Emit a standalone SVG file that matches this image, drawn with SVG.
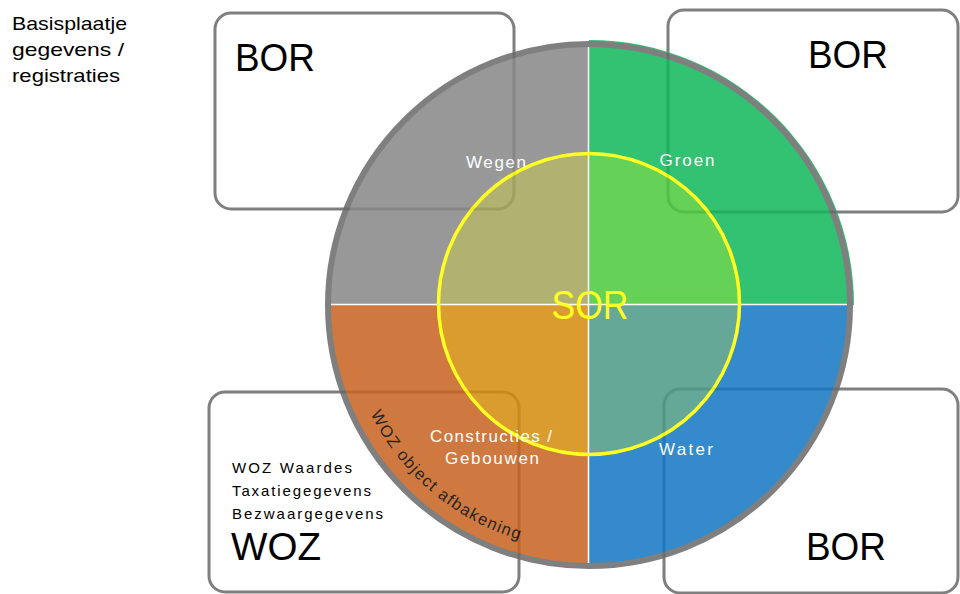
<svg xmlns="http://www.w3.org/2000/svg" width="960" height="594" viewBox="0 0 960 594">
<style>
.box{fill:#fff;stroke:#7f7f7f;stroke-width:3}
.big{font-family:"Liberation Sans",Arial,sans-serif;font-size:39px;fill:#000}
.lab{font-family:"Liberation Sans",Arial,sans-serif;font-size:17px;fill:#fff;text-anchor:middle}
.small{font-family:"Liberation Sans",Arial,sans-serif;font-size:15px;fill:#000}
.title{font-family:"Liberation Sans",Arial,sans-serif;font-size:19px;fill:#000}
.div{stroke:#fff;stroke-width:1.5}
</style>
<defs>
<path id="arc" d="M362.8,396.4 A245,245 0 0 0 567.7,549.1" fill="none"/>
</defs>
<g id="legend">
<text class="title" x="12" y="30" textLength="115" lengthAdjust="spacingAndGlyphs">Basisplaatje</text>
<text class="title" x="12" y="56" textLength="112" lengthAdjust="spacingAndGlyphs">gegevens /</text>
<text class="title" x="12" y="82" textLength="108" lengthAdjust="spacingAndGlyphs">registraties</text>
</g>
<g id="bor-topleft">
<rect class="box" x="215" y="13" width="299" height="196" rx="16"/>
<text class="big" x="235" y="71" textLength="80" lengthAdjust="spacingAndGlyphs">BOR</text>
</g>
<g id="bor-topright">
<rect class="box" x="668" y="10" width="290" height="202" rx="16"/>
<text class="big" x="808" y="68" textLength="80" lengthAdjust="spacingAndGlyphs">BOR</text>
</g>
<g id="bor-bottomright">
<rect class="box" x="664" y="389" width="294" height="204" rx="16"/>
<text class="big" x="806" y="560" textLength="80" lengthAdjust="spacingAndGlyphs">BOR</text>
</g>
<g id="woz">
<rect class="box" x="209" y="392" width="310" height="200" rx="16"/>
<text class="small" x="232" y="473" textLength="120" lengthAdjust="spacing">WOZ Waardes</text>
<text class="small" x="232" y="496" textLength="139" lengthAdjust="spacing">Taxatiegegevens</text>
<text class="small" x="232" y="519" textLength="151" lengthAdjust="spacing">Bezwaargegevens</text>
<text class="big" x="231" y="560" textLength="90" lengthAdjust="spacingAndGlyphs">WOZ</text>
</g>
<g id="circle" opacity="0.86">
<path d="M589,305 L327,305 A262,262 0 0 1 589,43 Z" fill="#888888"/>
<path d="M589,305 L589,40 A265,265 0 0 1 854,305 Z" fill="#12b75b"/>
<path d="M589,305 L851,305 A262,262 0 0 1 589,567 Z" fill="#1478c3"/>
<path d="M589,305 L589,567 A262,262 0 0 1 327,305 Z" fill="#c86421"/>
<path d="M589,304 L439,304 A150,150 0 0 1 589,154 Z" fill="#a5a55c"/>
<path d="M589,304 L589,154 A150,150 0 0 1 739,304 Z" fill="#4dca3c"/>
<path d="M589,304 L739,304 A150,150 0 0 1 589,454 Z" fill="#4d9a86"/>
<path d="M589,304 L589,454 A150,150 0 0 1 439,304 Z" fill="#d68c0e"/>
<line class="div" x1="328" y1="304.5" x2="851" y2="304.5"/>
<line class="div" x1="588.5" y1="45" x2="588.5" y2="566"/>
<circle cx="589" cy="304" r="150.5" fill="none" stroke="#ffff00" stroke-width="3.5"/>
<circle cx="589" cy="305" r="261" fill="none" stroke="#6b6b6b" stroke-width="6"/>
<text class="lab" x="496" y="168" textLength="60" lengthAdjust="spacing">Wegen</text>
<text class="lab" x="687" y="166" textLength="55" lengthAdjust="spacing">Groen</text>
<text class="lab" x="491" y="442" textLength="122" lengthAdjust="spacing">Constructies /</text>
<text class="lab" x="492" y="464" textLength="94" lengthAdjust="spacing">Gebouwen</text>
<text class="lab" x="686" y="455" textLength="54" lengthAdjust="spacing">Water</text>
<text x="590" y="319" font-family="Liberation Sans,Arial,sans-serif" font-size="40" fill="#ffff00" text-anchor="middle" textLength="77" lengthAdjust="spacingAndGlyphs">SOR</text>
<text font-family="Liberation Sans,Arial,sans-serif" font-size="16.5" fill="#000"><textPath href="#arc" startOffset="19" textLength="200" lengthAdjust="spacing">WOZ object afbakening</textPath></text>
</g>
</svg>
